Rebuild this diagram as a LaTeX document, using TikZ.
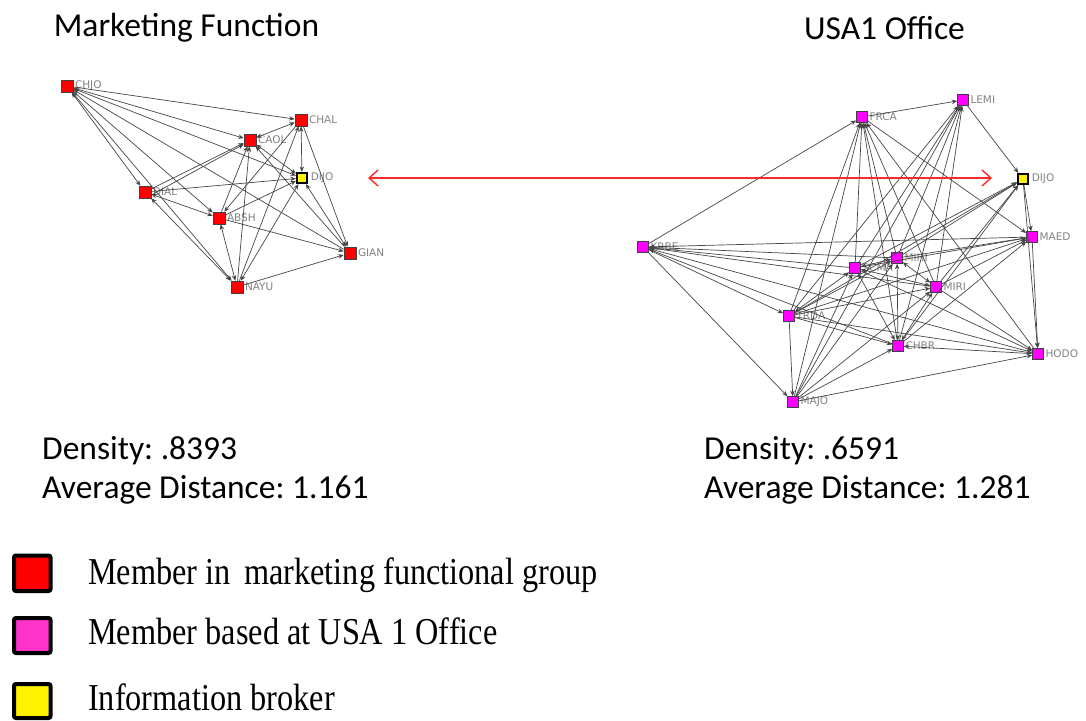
\documentclass[tikz,border=0pt]{standalone}
\usepackage{fontspec}
\setmainfont{Liberation Serif}
\newfontfamily\carl{Carlito}
\newfontfamily\labfont{DejaVu Sans}
\usetikzlibrary{arrows.meta}
\definecolor{nodered}{RGB}{255,0,0}
\definecolor{nodemag}{RGB}{255,0,255}
\definecolor{legmag}{RGB}{255,51,204}
\definecolor{edgegray}{RGB}{70,70,70}
\definecolor{labgray}{RGB}{130,130,130}
\definecolor{linkred}{RGB}{255,40,40}
\frenchspacing
\begin{document}
\begin{tikzpicture}[x=1pt,y=-1pt,
  actor/.style={rectangle,draw=black!75,line width=0.6pt,minimum size=12pt,inner sep=0pt},
  redactor/.style={actor,fill=nodered},
  magactor/.style={actor,fill=nodemag,minimum size=11pt},
  broker/.style={actor,fill=yellow,draw=black,line width=2.2pt,minimum size=10pt},
  lab/.style={font=\labfont\fontsize{10.5}{10.5}\selectfont,text=labgray,inner sep=1.5pt},
  tie/.style={draw=edgegray,line width=0.7pt,-{Stealth[length=5.5pt,width=4.5pt]}},
  tietwo/.style={draw=edgegray,line width=0.7pt,{Stealth[length=5.5pt,width=4.5pt]}-{Stealth[length=5.5pt,width=4.5pt]}},
  title/.style={font=\carl\fontsize{33.5}{40}\selectfont,inner sep=0pt},
  stat/.style={font=\carl\fontsize{33.5}{40}\selectfont,inner sep=0pt,anchor=base west},
  legbox/.style={draw=black,line width=4pt,rounded corners=2pt},
  legtext/.style={font=\fontsize{38}{44}\selectfont,inner sep=0pt,anchor=base west,xscale=0.85}
]
\useasboundingbox (0,0) rectangle (1086,720);
\fill[white] (0,0) rectangle (1086,720);

% titles
\node[title] (t1) at (186.5,28) {Marketing Function};
\node[title] (t2) at (884.5,28) {USA1 Office};

% ---------- left network ----------
\node[redactor,label={[lab]right:CHJO}] (LCHJO) at (67,86) {};
\node[redactor,label={[lab]right:CHAL}] (LCHAL) at (301,120) {};
\node[redactor,label={[lab]right:CAOL}] (LCAOL) at (250,140) {};
\node[broker,label={[lab,xshift=1pt]right:DIJO}] (LDIJO) at (302,178) {};
\node[redactor,label={[lab]right:DIAL}] (LDIAL) at (145,192) {};
\node[redactor,label={[lab]right:ABSH}] (LABSH) at (219,218) {};
\node[redactor,label={[lab]right:GIAN}] (LGIAN) at (350,253) {};
\node[redactor,label={[lab]right:NAYU}] (LNAYU) at (237,287) {};

\foreach \a/\b in {LCHJO/LCAOL,LCHJO/LDIJO,LCHJO/LDIAL,LCHJO/LNAYU,LCAOL/LDIJO,
  LCHAL/LDIJO,LDIAL/LABSH,LDIAL/LNAYU,LABSH/LNAYU,LDIJO/LGIAN,LCHAL/LCAOL,LDIJO/LNAYU}
  \draw[tietwo] (\a) -- (\b);
\foreach \a/\b in {LCHJO/LCHAL,LCHJO/LABSH,LGIAN/LCHJO,LDIAL/LCAOL,LDIAL/LDIJO,
  LNAYU/LCAOL,LABSH/LCAOL,LCHAL/LABSH,LGIAN/LCAOL,LNAYU/LCHAL,LNAYU/LGIAN,
  LCHAL/LGIAN,LABSH/LGIAN,LABSH/LDIJO}
  \draw[tie] (\a) -- (\b);
\draw[tie] ([yshift=-3pt]LDIAL.east) -- ([yshift=2pt]LCAOL.south west);

% ---------- right network ----------
\node[magactor,label={[lab]right:FRCA}] (RFRCA) at (862,117) {};
\node[magactor,label={[lab]right:LEMI}] (RLEMI) at (963,100) {};
\node[broker,label={[lab,xshift=1pt]right:DIJO}] (RDIJO) at (1023,179) {};
\node[magactor,label={[lab]right:MAED}] (RMAED) at (1032,237) {};
\node[magactor,label={[lab]right:KRBE}] (RKRBE) at (643,247) {};
\node[magactor,label={[lab]right:MIHI}] (RMIHI) at (897,258) {};
\node[magactor,label={[lab]right:SCMA}] (RSCMA) at (855,268) {};
\node[magactor,label={[lab]right:MIRI}] (RMIRI) at (936,287) {};
\node[magactor,label={[lab]right:TRDA}] (RTRDA) at (789,316) {};
\node[magactor,label={[lab]right:CHBR}] (RCHBR) at (898,346) {};
\node[magactor,label={[lab]right:HODO}] (RHODO) at (1038,354) {};
\node[magactor,label={[lab]right:MAJO}] (RMAJO) at (793,402) {};

\foreach \a/\b in {RKRBE/RFRCA,RMAED/RKRBE,RMIHI/RKRBE,RSCMA/RKRBE,RMIRI/RKRBE,
  RCHBR/RKRBE,RKRBE/RTRDA,RKRBE/RMAJO,RHODO/RKRBE,
  RFRCA/RLEMI,RSCMA/RFRCA,RMIHI/RFRCA,RMIRI/RFRCA,RCHBR/RFRCA,RTRDA/RFRCA,
  RMAJO/RFRCA,RHODO/RFRCA,RFRCA/RMAED,
  RLEMI/RDIJO,RSCMA/RLEMI,RMIHI/RLEMI,RMIRI/RLEMI,RCHBR/RLEMI,RTRDA/RLEMI,RMAJO/RLEMI,
  RDIJO/RMAED,RDIJO/RHODO,RMIHI/RDIJO,RSCMA/RDIJO,RMIRI/RDIJO,RCHBR/RDIJO,RTRDA/RDIJO,
  RMIHI/RMAED,RSCMA/RMAED,RMIRI/RMAED,RCHBR/RMAED,RMAED/RHODO,RTRDA/RMAED,
  RTRDA/RMIHI,RMAJO/RMIHI,RTRDA/RMIRI,RMAJO/RMIRI,RMIRI/RHODO,
  RTRDA/RCHBR,RMAJO/RCHBR,RHODO/RCHBR,RTRDA/RMAJO,RTRDA/RHODO,RMAJO/RHODO,
  RSCMA/RHODO,RMAJO/RSCMA}
  \draw[tie] (\a) -- (\b);
\foreach \a/\b in {RMIHI/RSCMA,RSCMA/RMIRI,RSCMA/RCHBR,RTRDA/RSCMA,RMIHI/RMIRI,
  RMIHI/RCHBR,RMIRI/RCHBR}
  \draw[tietwo] (\a) -- (\b);

% ---------- link arrow ----------
\coordinate (la) at (368,178);
\coordinate (lb) at (992,178);
\draw[linkred,line width=1.4pt,{Straight Barb[length=9pt,width=16pt]}-{Straight Barb[length=9pt,width=16pt]}] (la) -- (lb);

% ---------- statistics ----------
\node[stat] (s1) at (42,459) {Density: .8393};
\node[stat] (s2) at (42,498) {Average Distance: 1.161};
\node[stat] (s3) at (704,459) {Density: .6591};
\node[stat] (s4) at (704,498) {Average Distance: 1.281};

% ---------- legend ----------
\draw[legbox,fill=nodered] (14,555.5) rectangle (50.5,591);
\draw[legbox,fill=legmag] (14,618) rectangle (50.5,653);
\draw[legbox,fill=yellow] (14,684) rectangle (50.5,718);
\node[legtext] (g1) at (88,584) {Member in\, marketing functional group};
\node[legtext] (g2) at (88,644) {Member based at USA 1 Office};
\node[legtext] (g3) at (88,710) {Information broker};
\end{tikzpicture}
\end{document}
